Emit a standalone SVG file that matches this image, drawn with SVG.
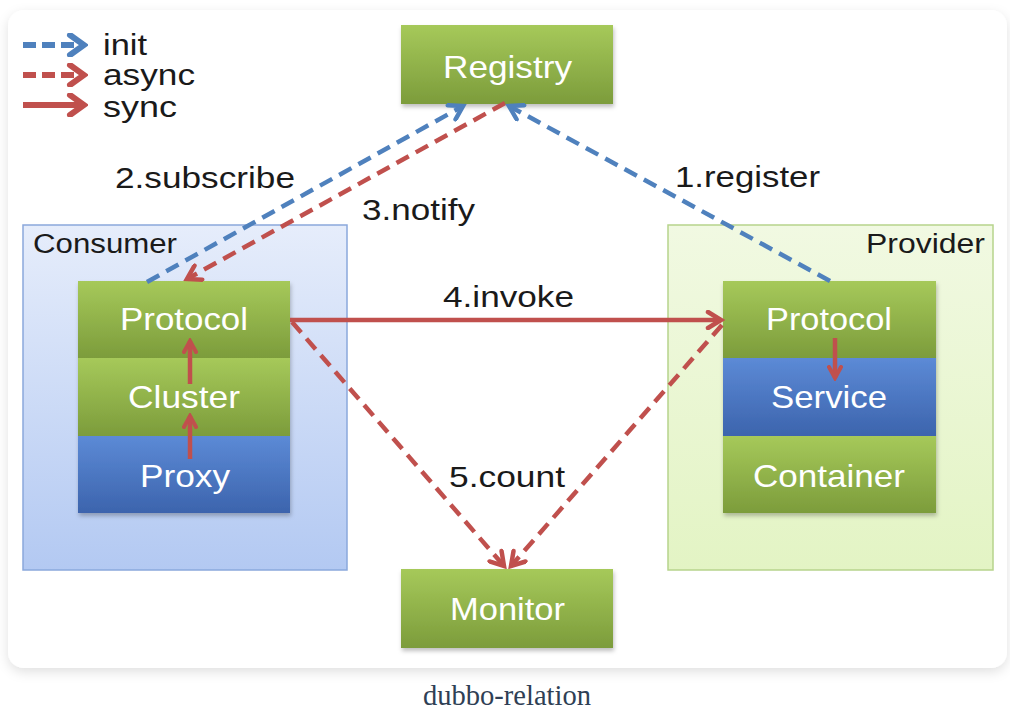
<svg xmlns="http://www.w3.org/2000/svg" width="1010" height="724" viewBox="0 0 1010 724">
  <defs>
    <linearGradient id="gGreen" x1="0" y1="0" x2="0" y2="1">
      <stop offset="0" stop-color="#a6c95a"/>
      <stop offset="1" stop-color="#7c9c3b"/>
    </linearGradient>
    <linearGradient id="gBlue" x1="0" y1="0" x2="0" y2="1">
      <stop offset="0" stop-color="#5c8ad6"/>
      <stop offset="1" stop-color="#3c64ad"/>
    </linearGradient>
    <linearGradient id="gCons" x1="0" y1="0" x2="0" y2="1">
      <stop offset="0" stop-color="#e6edfb"/>
      <stop offset="1" stop-color="#b3c9f2"/>
    </linearGradient>
    <linearGradient id="gProv" x1="0" y1="0" x2="0" y2="1">
      <stop offset="0" stop-color="#f1f9e2"/>
      <stop offset="1" stop-color="#e3f4c4"/>
    </linearGradient>
    <filter id="cardShadow" x="-5%" y="-5%" width="110%" height="115%">
      <feDropShadow dx="0" dy="4" stdDeviation="6" flood-color="#000" flood-opacity="0.12"/>
    </filter>
    <filter id="boxShadow" x="-10%" y="-10%" width="120%" height="130%">
      <feDropShadow dx="1" dy="3" stdDeviation="2" flood-color="#000" flood-opacity="0.25"/>
    </filter>
    <marker id="hBlue" viewBox="0 0 20 20" markerWidth="20" markerHeight="20" refX="16" refY="10" orient="auto" markerUnits="userSpaceOnUse">
      <path d="M3,2 L16,10 L3,18" fill="none" stroke="#4f81bd" stroke-width="4.5" stroke-linecap="round"/>
    </marker>
    <marker id="hRed" viewBox="0 0 20 20" markerWidth="20" markerHeight="20" refX="16" refY="10" orient="auto" markerUnits="userSpaceOnUse">
      <path d="M3,2 L16,10 L3,18" fill="none" stroke="#c0504d" stroke-width="4.5" stroke-linecap="round"/>
    </marker>
    <marker id="hBlueL" viewBox="0 0 22 24" markerWidth="22" markerHeight="24" refX="18" refY="12" orient="auto" markerUnits="userSpaceOnUse">
      <path d="M4,2 L18,12 L4,22" fill="none" stroke="#4f81bd" stroke-width="6" stroke-linecap="round"/>
    </marker>
    <marker id="hRedL" viewBox="0 0 22 24" markerWidth="22" markerHeight="24" refX="18" refY="12" orient="auto" markerUnits="userSpaceOnUse">
      <path d="M4,2 L18,12 L4,22" fill="none" stroke="#c0504d" stroke-width="6" stroke-linecap="round"/>
    </marker>
    <marker id="hRedS" viewBox="0 0 16 16" markerWidth="16" markerHeight="16" refX="13" refY="8" orient="auto" markerUnits="userSpaceOnUse">
      <path d="M2,2 L13,8 L2,14" fill="none" stroke="#c0504d" stroke-width="4" stroke-linecap="round"/>
    </marker>
  </defs>
  <style>
    .lbl { font-family: "Liberation Sans", Arial, sans-serif; fill: #1a1a1a; }
    .node { font-family: "Liberation Sans", Arial, sans-serif; fill: #ffffff; font-size: 32px; }
    .blue { stroke: #4f81bd; }
    .red { stroke: #c0504d; }
    .dash { stroke-dasharray: 14 8; }
    .conn { fill: none; stroke-width: 4.5; }
    .leg { fill: none; stroke-width: 6; }
  </style>

  <rect x="0" y="0" width="1010" height="724" fill="#ffffff"/>
  <rect x="8" y="10" width="999" height="658" rx="16" ry="16" fill="#ffffff" filter="url(#cardShadow)"/>

  <g id="legend">
    <line x1="23" y1="45" x2="84" y2="45" class="leg blue" stroke-dasharray="13 6" marker-end="url(#hBlueL)"/>
    <line x1="23" y1="75" x2="84" y2="75" class="leg red" stroke-dasharray="13 6" marker-end="url(#hRedL)"/>
    <line x1="23" y1="105" x2="84" y2="105" class="leg red" marker-end="url(#hRedL)"/>
    <text x="103" y="55" class="lbl" font-size="30" textLength="44" lengthAdjust="spacingAndGlyphs">init</text>
    <text x="103" y="85" class="lbl" font-size="30" textLength="92" lengthAdjust="spacingAndGlyphs">async</text>
    <text x="103" y="117" class="lbl" font-size="30" textLength="74" lengthAdjust="spacingAndGlyphs">sync</text>
  </g>

  <g id="consumer">
    <rect x="23" y="225" width="324" height="345" fill="url(#gCons)" stroke="#8aa8dc" stroke-width="1.5"/>
    <text x="33" y="253" class="lbl" font-size="27" textLength="144" lengthAdjust="spacingAndGlyphs">Consumer</text>
  </g>
  <g id="provider">
    <rect x="668" y="225" width="325" height="345" fill="url(#gProv)" stroke="#b7d48c" stroke-width="1.5"/>
    <text x="866" y="253" class="lbl" font-size="27" textLength="119" lengthAdjust="spacingAndGlyphs">Provider</text>
  </g>

  <g id="registry">
    <rect x="401" y="25" width="212" height="79" fill="url(#gGreen)" filter="url(#boxShadow)"/>
    <text x="443" y="78" class="node" textLength="129" lengthAdjust="spacingAndGlyphs">Registry</text>
  </g>
  <g id="monitor">
    <rect x="401" y="569" width="212" height="79" fill="url(#gGreen)" filter="url(#boxShadow)"/>
    <text x="450" y="620" class="node" textLength="115" lengthAdjust="spacingAndGlyphs">Monitor</text>
  </g>

  <g id="consumer-stack" filter="url(#boxShadow)">
    <rect x="78" y="281" width="212" height="77" fill="url(#gGreen)"/>
    <rect x="78" y="358" width="212" height="78" fill="url(#gGreen)"/>
    <rect x="78" y="436" width="212" height="77" fill="url(#gBlue)"/>
  </g>
  <g id="consumer-protocol">
    <text x="120" y="330" class="node" textLength="128" lengthAdjust="spacingAndGlyphs">Protocol</text>
  </g>
  <g id="consumer-cluster">
    <text x="128" y="408" class="node" textLength="112" lengthAdjust="spacingAndGlyphs">Cluster</text>
  </g>
  <g id="consumer-proxy">
    <text x="140" y="487" class="node" textLength="90" lengthAdjust="spacingAndGlyphs">Proxy</text>
  </g>

  <g id="provider-stack" filter="url(#boxShadow)">
    <rect x="723" y="281" width="213" height="77" fill="url(#gGreen)"/>
    <rect x="723" y="358" width="213" height="78" fill="url(#gBlue)"/>
    <rect x="723" y="436" width="213" height="77" fill="url(#gGreen)"/>
  </g>
  <g id="provider-protocol">
    <text x="766" y="330" class="node" textLength="126" lengthAdjust="spacingAndGlyphs">Protocol</text>
  </g>
  <g id="provider-service">
    <text x="771" y="408" class="node" textLength="116" lengthAdjust="spacingAndGlyphs">Service</text>
  </g>
  <g id="provider-container">
    <text x="753" y="487" class="node" textLength="152" lengthAdjust="spacingAndGlyphs">Container</text>
  </g>

  <g id="connectors">
    <line x1="147" y1="282" x2="463" y2="106" class="conn blue dash" marker-end="url(#hBlue)"/>
    <line x1="505" y1="103" x2="187" y2="279" class="conn red dash" marker-end="url(#hRed)"/>
    <line x1="830" y1="281" x2="509" y2="106" class="conn blue dash" marker-end="url(#hBlue)"/>
    <line x1="290" y1="320" x2="721" y2="320" class="conn red" marker-end="url(#hRed)"/>
    <line x1="292" y1="322" x2="504" y2="566" class="conn red dash" marker-end="url(#hRed)"/>
    <line x1="722" y1="325" x2="511" y2="566" class="conn red dash" marker-end="url(#hRed)"/>
    <line x1="190" y1="384" x2="190" y2="341" class="conn red" marker-end="url(#hRedS)"/>
    <line x1="190" y1="459" x2="190" y2="416" class="conn red" marker-end="url(#hRedS)"/>
    <line x1="835" y1="338" x2="835" y2="378" class="conn red" marker-end="url(#hRedS)"/>
  </g>

  <g id="edge-labels">
    <text x="115" y="188" class="lbl" font-size="30" textLength="180" lengthAdjust="spacingAndGlyphs">2.subscribe</text>
    <text x="362" y="220" class="lbl" font-size="30" textLength="113" lengthAdjust="spacingAndGlyphs">3.notify</text>
    <text x="675" y="187" class="lbl" font-size="30" textLength="145" lengthAdjust="spacingAndGlyphs">1.register</text>
    <text x="443" y="307" class="lbl" font-size="30" textLength="131" lengthAdjust="spacingAndGlyphs">4.invoke</text>
    <text x="449" y="487" class="lbl" font-size="30" textLength="116" lengthAdjust="spacingAndGlyphs">5.count</text>
  </g>

  <text x="423" y="705" font-family="'Liberation Serif', 'Times New Roman', serif" font-size="29" fill="#2f3f55" textLength="168" lengthAdjust="spacingAndGlyphs">dubbo-relation</text>
</svg>
